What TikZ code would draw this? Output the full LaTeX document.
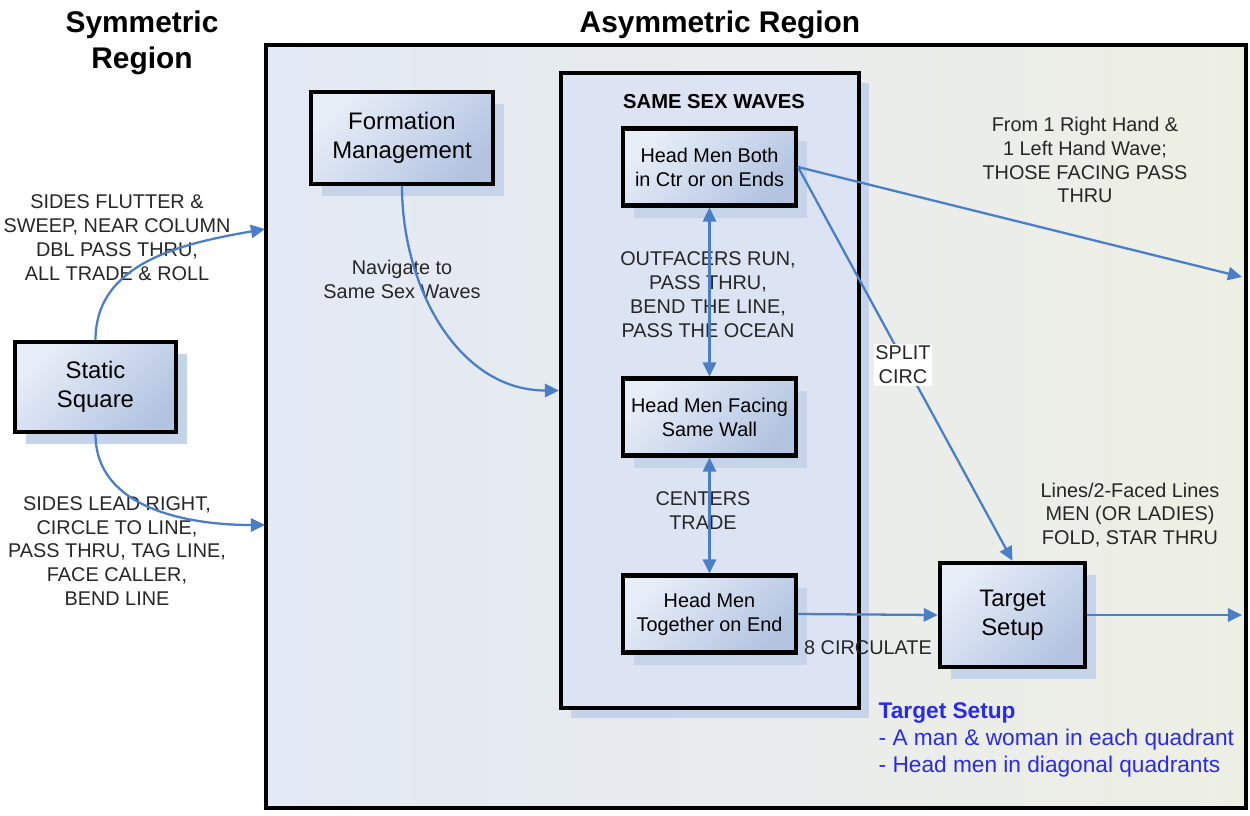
\documentclass[tikz,border=0pt]{standalone}
\usepackage{fontspec}
\setmainfont{Liberation Sans}
\usetikzlibrary{positioning,arrows.meta,shadows,calc}
\definecolor{flowblue}{HTML}{4A7EC7}
\definecolor{boxlight}{HTML}{E8EEF8}
\definecolor{boxdark}{HTML}{B3C4E1}
\definecolor{shadowblue}{HTML}{C6D4EA}
\definecolor{regionleft}{HTML}{E3E9F5}
\definecolor{regionright}{HTML}{EEEFE4}
\definecolor{wavesfill}{HTML}{DCE3F2}
\definecolor{notetext}{HTML}{2A2AEE}

\begin{document}
\begin{tikzpicture}[
  >={Triangle[length=8pt,width=7.5pt]},
  font=\fontsize{11.3}{13.6}\selectfont,
  flow/.style={draw=flowblue, line width=1.3pt},
  callbox/.style={
    rectangle, draw=black, line width=2.5pt, align=center,
    top color=boxlight, bottom color=boxdark, shading angle=45,
    drop shadow={shadow xshift=0.22cm, shadow yshift=-0.24cm, fill=shadowblue, opacity=1}
  },
  bigbox/.style={
    callbox, font=\fontsize{13.6}{16.5}\selectfont
  },
  smallbox/.style={
    callbox, line width=2.3pt, minimum width=3.46cm, minimum height=1.54cm
  },
  region/.style={
    rectangle, draw=black, line width=2.3pt, left color=regionleft, right color=regionright,
    minimum width=19.6cm, minimum height=15.26cm
  },
  heading/.style={font=\fontsize{17}{20.4}\selectfont\bfseries, align=center},
  lbl/.style={align=center, text=black!85}
]
\useasboundingbox (0,0) rectangle (25,-16.3);

% headings
\node[heading] (symhead) at (2.84,-0.86) {Symmetric\\Region};
\node[heading] (asymhead) at (14.4,-0.5) {Asymmetric Region};

% asymmetric region and the waves panel
\node[region] (asym) at (15.12,-8.53) {};
\node[rectangle, draw=black, line width=2.3pt, fill=wavesfill,
      minimum width=5.96cm, minimum height=12.7cm,
      drop shadow={shadow xshift=0.2cm, shadow yshift=-0.2cm, fill=shadowblue, opacity=1}]
  (waves) at (14.2,-7.81) {};
\node[font=\fontsize{11.5}{13.6}\selectfont\bfseries] (wavestitle) at (14.28,-2.04) {SAME SEX WAVES};

% boxes
\node[bigbox, minimum width=3.22cm, minimum height=1.8cm] (static) at (1.91,-7.74) {Static\\Square};
\node[bigbox, minimum width=3.64cm, minimum height=1.84cm] (formation) at (8.04,-2.76) {Formation\\Management};
\node[bigbox, minimum width=2.9cm, minimum height=2.08cm] (target) at (20.25,-12.3) {Target\\Setup};
\node[smallbox] (both) at (14.19,-3.34) {Head Men Both\\in Ctr or on Ends};
\node[smallbox] (facing) at (14.19,-8.34) {Head Men Facing\\Same Wall};
\node[smallbox] (together) at (14.19,-12.28) {Head Men\\Together on End};

% free ends on the region border
\coordinate (sweepin) at (5.3,-4.58);
\coordinate (leadin) at (5.3,-10.5);
\coordinate (waveout) at (24.84,-5.54);
\coordinate (setupout) at (24.84,-12.3);

% call labels
\node[lbl] (flutter) at (2.34,-4.76) {SIDES FLUTTER \&\\SWEEP, NEAR COLUMN\\DBL PASS THRU,\\ALL TRADE \& ROLL};
\node[lbl] (leadright) at (2.34,-11.02) {SIDES LEAD RIGHT,\\CIRCLE TO LINE,\\PASS THRU, TAG LINE,\\FACE CALLER,\\BEND LINE};
\node[lbl] (navigate) at (8.04,-5.58) {Navigate to\\Same Sex Waves};
\node[lbl] (outfacers) at (14.16,-5.9) {OUTFACERS RUN,\\PASS THRU,\\BEND THE LINE,\\PASS THE OCEAN};
\node[lbl] (ctrtrade) at (14.06,-10.22) {CENTERS\\TRADE};
\node[lbl] (fromwave) at (21.7,-3.2) {From 1 Right Hand \&\\1 Left Hand Wave;\\THOSE FACING PASS\\THRU};
\node[lbl] (fold) at (22.6,-10.3) {Lines/2-Faced Lines\\MEN (OR LADIES)\\FOLD, STAR THRU};
\node[lbl] (circulate) at (17.36,-12.96) {8 CIRCULATE};

% connectors
\draw[flow, ->] (static.north) to[out=90, in=190] (sweepin);
\draw[flow, ->] (static.south) to[out=-90, in=180] (leadin);
\draw[flow, ->] (formation.south) to[out=-90, in=180] (waves.west);
\draw[flow, <->] (both.south) -- (facing.north);
\draw[flow, <->] (facing.south) -- (together.north);
\draw[flow, ->] (both.east) -- (waveout);
\draw[flow, ->] (both.east) -- (target.north);
\draw[flow, ->] (together.east) -- (target.west);
\draw[flow, ->] (target.east) -- (setupout);

\node[lbl, fill=white, inner sep=1pt] (splitcirc) at (18.06,-7.3) {SPLIT\\CIRC};

% note on the target setup
\node[anchor=west, align=left, text=notetext, font=\fontsize{12.9}{15.5}\selectfont] (note) at (17.45,-14.8)
  {\textbf{Target Setup}\\- A man \& woman in each quadrant\\- Head men in diagonal quadrants};
\end{tikzpicture}
\end{document}
